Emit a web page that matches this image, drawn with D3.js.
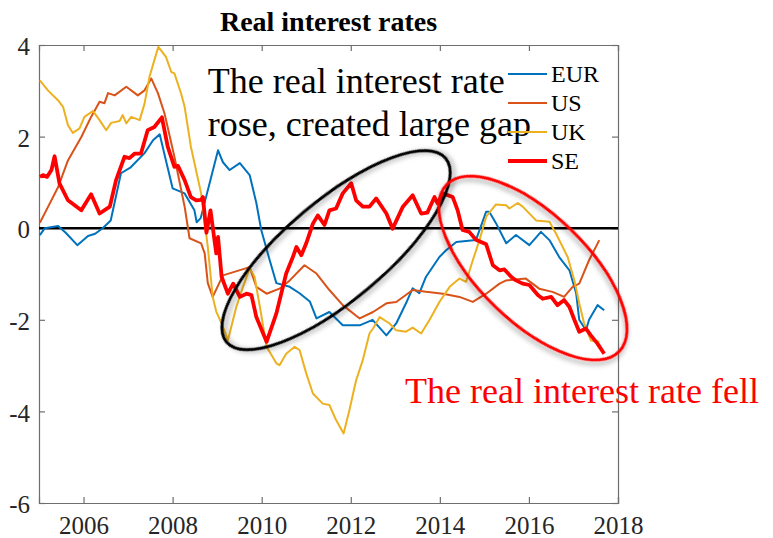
<!DOCTYPE html>
<html>
<head>
<meta charset="utf-8">
<script src="https://cdn.jsdelivr.net/npm/d3@7"></script>
<style>
  body { margin: 0; background: #fff; }
  svg { font-family: "Liberation Serif", "Times New Roman", serif; }
</style>
</head>
<body>
<svg width="773" height="538"></svg>
<script>
// series as [decimal year, real rate %]
const eur = [
  [2005.02, -0.15], [2005.13, 0.0], [2005.43, 0.05], [2005.6, -0.1], [2005.86, -0.37],
  [2006.1, -0.17], [2006.26, -0.12], [2006.43, 0.0], [2006.61, 0.17], [2006.84, 1.2],
  [2007.06, 1.33], [2007.37, 1.64], [2007.56, 1.92], [2007.71, 2.05], [2007.85, 1.48],
  [2008.0, 0.87], [2008.27, 0.76], [2008.49, 0.39], [2008.54, 0.13], [2008.63, 0.22],
  [2009.02, 1.7], [2009.13, 1.44], [2009.28, 1.27], [2009.51, 1.42], [2009.73, 1.16],
  [2009.88, 0.55], [2009.99, -0.04], [2010.18, -0.7], [2010.33, -1.2], [2010.63, -1.28],
  [2010.85, -1.42], [2011.08, -1.6], [2011.23, -1.97], [2011.52, -1.83], [2011.82, -2.12],
  [2012.2, -2.12], [2012.49, -2.0], [2012.8, -2.34], [2013.02, -2.08], [2013.24, -1.64],
  [2013.39, -1.31], [2013.54, -1.42], [2013.69, -1.06], [2013.99, -0.63], [2014.14, -0.48],
  [2014.37, -0.3], [2014.81, -0.26], [2015.04, 0.36], [2015.11, 0.36], [2015.26, 0.11],
  [2015.49, -0.33], [2015.71, -0.15], [2016.01, -0.37], [2016.27, -0.08], [2016.46, -0.26],
  [2016.68, -0.63], [2016.91, -0.92], [2017.06, -1.42], [2017.13, -2.0], [2017.28, -2.23],
  [2017.35, -2.0], [2017.54, -1.68], [2017.69, -1.79]
];
const us = [
  [2005.02, 0.12], [2005.2, 0.46], [2005.43, 0.9], [2005.65, 1.48], [2005.95, 1.99],
  [2006.17, 2.43], [2006.36, 2.76], [2006.47, 2.73], [2006.55, 2.95], [2006.7, 2.9],
  [2006.96, 3.09], [2007.22, 2.9], [2007.37, 3.01], [2007.52, 3.27], [2007.67, 2.95],
  [2007.82, 2.5], [2008.04, 1.56], [2008.27, 0.47], [2008.38, -0.22], [2008.64, -0.33],
  [2008.72, -0.55], [2008.79, -1.2], [2008.9, -1.5], [2009.13, -1.03], [2009.73, -0.85],
  [2009.88, -1.28], [2010.11, -1.43], [2010.4, -1.32], [2010.63, -1.14], [2010.96, -0.81],
  [2011.23, -0.99], [2011.52, -1.35], [2011.82, -1.68], [2012.2, -1.97], [2012.5, -1.83],
  [2012.8, -1.64], [2013.02, -1.61], [2013.39, -1.35], [2013.69, -1.39], [2014.07, -1.43],
  [2014.44, -1.5], [2014.74, -1.61], [2015.04, -1.43], [2015.34, -1.21], [2015.49, -1.14],
  [2015.93, -1.1], [2016.23, -1.32], [2016.53, -1.39], [2016.79, -1.5], [2016.98, -1.28],
  [2017.13, -1.21], [2017.35, -0.7], [2017.58, -0.26]
];
const uk = [
  [2005.02, 3.23], [2005.2, 3.01], [2005.43, 2.79], [2005.54, 2.65], [2005.65, 2.25],
  [2005.76, 2.08], [2005.91, 2.18], [2006.02, 2.43], [2006.21, 2.56], [2006.36, 2.36],
  [2006.51, 2.14], [2006.62, 2.3], [2006.81, 2.34], [2006.88, 2.47], [2006.96, 2.29],
  [2007.07, 2.43], [2007.26, 2.36], [2007.37, 2.72], [2007.48, 3.3], [2007.59, 3.67],
  [2007.68, 3.96], [2007.85, 3.74], [2007.97, 3.41], [2008.04, 3.38], [2008.19, 2.94],
  [2008.27, 2.65], [2008.41, 1.78], [2008.64, 0.76], [2008.79, -0.41], [2008.9, -1.5],
  [2008.98, -1.82], [2009.13, -2.15], [2009.24, -2.45], [2009.43, -1.72], [2009.58, -1.28],
  [2009.73, -0.88], [2009.84, -1.06], [2009.96, -1.72], [2010.11, -2.59], [2010.33, -2.95],
  [2010.4, -2.99], [2010.55, -2.74], [2010.74, -2.59], [2010.85, -2.66], [2011.0, -3.17],
  [2011.15, -3.61], [2011.37, -3.83], [2011.52, -3.86], [2011.67, -4.19], [2011.84, -4.48],
  [2011.97, -3.97], [2012.12, -3.32], [2012.27, -2.88], [2012.42, -2.3], [2012.5, -2.19],
  [2012.65, -1.94], [2012.87, -2.08], [2013.02, -2.23], [2013.24, -2.26], [2013.39, -2.17],
  [2013.58, -2.3], [2013.77, -2.0], [2013.99, -1.61], [2014.22, -1.28], [2014.44, -1.1],
  [2014.59, -1.17], [2014.74, -0.7], [2014.89, -0.26], [2015.04, 0.25], [2015.26, 0.52],
  [2015.49, 0.5], [2015.56, 0.43], [2015.75, 0.55], [2015.86, 0.47], [2016.16, 0.17],
  [2016.46, 0.14], [2016.61, -0.12], [2016.87, -0.63], [2017.02, -1.14], [2017.13, -1.64],
  [2017.24, -2.08], [2017.39, -2.45], [2017.58, -2.48]
];
const se = [
  [2005.02, 1.12], [2005.09, 1.16], [2005.18, 1.12], [2005.28, 1.27], [2005.35, 1.57],
  [2005.46, 0.98], [2005.65, 0.61], [2005.95, 0.39], [2006.17, 0.74], [2006.36, 0.32],
  [2006.59, 0.47], [2006.73, 1.05], [2006.92, 1.56], [2007.03, 1.53], [2007.15, 1.63],
  [2007.29, 1.63], [2007.44, 2.14], [2007.59, 2.21], [2007.76, 2.42], [2007.89, 1.78],
  [2008.04, 1.34], [2008.12, 1.36], [2008.27, 1.05], [2008.41, 0.68], [2008.53, 0.61],
  [2008.64, 0.62], [2008.68, 0.68], [2008.76, -0.1], [2008.85, 0.39], [2008.98, -0.55],
  [2009.02, -0.19], [2009.1, -1.06], [2009.24, -1.43], [2009.36, -1.21], [2009.51, -1.5],
  [2009.66, -1.43], [2009.77, -1.46], [2009.88, -1.94], [2010.11, -2.48], [2010.33, -1.86],
  [2010.55, -0.99], [2010.7, -0.63], [2010.78, -0.41], [2010.89, -0.59], [2011.0, -0.33],
  [2011.15, 0.1], [2011.26, 0.28], [2011.41, 0.07], [2011.52, 0.39], [2011.67, 0.43],
  [2011.82, 0.76], [2012.01, 0.98], [2012.12, 0.61], [2012.27, 0.47], [2012.42, 0.47],
  [2012.57, 0.65], [2012.8, 0.32], [2012.94, -0.01], [2013.17, 0.47], [2013.39, 0.72],
  [2013.58, 0.32], [2013.72, 0.34], [2013.88, 0.68], [2013.95, 0.54], [2014.07, 0.76],
  [2014.29, 0.68], [2014.4, 0.39], [2014.51, -0.04], [2014.66, -0.08], [2014.81, -0.25],
  [2015.04, -0.35], [2015.19, -0.81], [2015.34, -0.92], [2015.45, -0.9], [2015.6, -1.06],
  [2015.71, -1.14], [2015.86, -1.21], [2016.01, -1.24], [2016.2, -1.46], [2016.31, -1.54],
  [2016.5, -1.5], [2016.64, -1.68], [2016.79, -1.57], [2016.91, -1.72], [2017.02, -2.0],
  [2017.13, -2.26], [2017.28, -2.19], [2017.39, -2.34], [2017.54, -2.52], [2017.69, -2.74]
];

const seriesNames = ['EUR', 'US', 'UK', 'SE'];
const seriesColors = ['#0072BD', '#D95319', '#EDB120', '#FF0000'];
const seriesWidths = [2, 2, 2, 3.8];
const xTicks = [2006, 2008, 2010, 2012, 2014, 2016, 2018];
const yTicks = [-6, -4, -2, 0, 2, 4];

const svg = d3.select('svg');
const x = d3.scaleLinear().domain([2005, 2018]).range([39, 618]);
const y = d3.scaleLinear().domain([-6, 4]).range([503, 45]);
const axisColor = '#6e6e6e';
const labelColor = '#262626';
const serif = '"Liberation Serif", "Times New Roman", serif';

// drop shadow for the hand drawn ellipses
const defs = svg.append('defs');
defs.append('filter').attr('id', 'shadow')
    .attr('x', '-20%').attr('y', '-20%').attr('width', '140%').attr('height', '140%')
  .append('feDropShadow')
    .attr('dx', 2).attr('dy', 3).attr('stdDeviation', 2.5)
    .attr('flood-color', '#000').attr('flood-opacity', 0.35);
defs.append('clipPath').attr('id', 'plotclip').append('rect')
    .attr('x', 39).attr('y', 45).attr('width', 579).attr('height', 458);

// axes: left/bottom with labels, top/right ticks only, all inward
const plain = d => String(d);
const axLeft = svg.append('g').attr('transform', `translate(${x.range()[0]},0)`)
    .call(d3.axisLeft(y).tickValues(yTicks).tickSize(-6).tickPadding(9).tickFormat(plain));
const axBottom = svg.append('g').attr('transform', `translate(0,${y.range()[0]})`)
    .call(d3.axisBottom(x).tickValues(xTicks).tickSize(-6).tickPadding(10).tickFormat(plain));
const axTop = svg.append('g').attr('transform', `translate(0,${y.range()[1]})`)
    .call(d3.axisTop(x).tickValues(xTicks).tickSize(-6).tickFormat(''));
const axRight = svg.append('g').attr('transform', `translate(${x.range()[1]},0)`)
    .call(d3.axisRight(y).tickValues(yTicks).tickSize(-6).tickFormat(''));

[axLeft, axBottom, axTop, axRight].forEach(g => {
    g.attr('font-family', serif).attr('font-size', 25);
    g.select('.domain').attr('stroke', axisColor).attr('stroke-width', 1.2);
    g.selectAll('.tick line').attr('stroke', axisColor).attr('stroke-width', 1.2);
    g.selectAll('.tick text')
        .attr('fill', labelColor)
        .style('font-family', serif);
});
axLeft.selectAll('.tick text').attr('dy', '0.39em');
axBottom.selectAll('.tick text').attr('dy', '0.82em');

// zero line
svg.append('line')
    .attr('x1', x(2005)).attr('x2', x(2018))
    .attr('y1', y(0)).attr('y2', y(0))
    .attr('stroke', '#000').attr('stroke-width', 2.6);

const line = d3.line().x(d => x(d[0])).y(d => y(d[1]));
const allSeries = [eur, us, uk, se];

svg.append('g').attr('clip-path', 'url(#plotclip)')
  .selectAll('path')
  .data(allSeries)
  .join('path')
    .attr('d', line)
    .attr('fill', 'none')
    .attr('stroke', (d, i) => seriesColors[i])
    .attr('stroke-width', (d, i) => seriesWidths[i])
    .attr('stroke-linejoin', 'round');

// title
svg.append('text')
    .attr('x', (x.range()[0] + x.range()[1]) / 2).attr('y', 31)
    .attr('text-anchor', 'middle')
    .attr('font-family', serif)
    .style('font-size', '28px').style('font-weight', 'bold')
    .attr('fill', '#000')
    .text('Real interest rates');

// annotation text
const noteLines = ['The real interest rate', 'rose, created large gap'];
svg.selectAll('.note')
  .data(noteLines)
  .join('text')
    .attr('class', 'note')
    .attr('x', x(2008.79))
    .attr('y', (d, i) => y(2.96) + i * 43)
    .attr('font-family', serif)
    .style('font-size', '36px')
    .attr('fill', '#000')
    .text(d => d);

svg.append('text')
    .attr('x', x(2013.22)).attr('y', y(-3.81))
    .attr('font-family', serif)
    .style('font-size', '36px')
    .attr('fill', '#FF0000')
    .text('The real interest rate fell');

// legend
const legend = svg.append('g').attr('transform', 'translate(508,74)');
const item = legend.selectAll('g')
  .data(seriesNames)
  .join('g')
    .attr('transform', (d, i) => `translate(0,${i * 29})`);
item.append('line')
    .attr('x1', 0).attr('x2', 39)
    .attr('stroke', (d, i) => seriesColors[i])
    .attr('stroke-width', (d, i) => seriesWidths[i]);
item.append('text')
    .attr('x', 43).attr('dy', '0.35em')
    .attr('font-family', serif)
    .style('font-size', '24px')
    .attr('fill', '#000')
    .text(d => d);

// ellipses: centre in data space, radii and tilt in pixels
const ellipses = [
  { cx: 2011.67, cy: -0.48, rx: 143, ry: 50, angle: -40, color: '#000' },
  { cx: 2016.09, cy: -0.87, rx: 120, ry: 54, angle: 44, color: '#FF0000' }
];
svg.selectAll('.ring')
  .data(ellipses)
  .join('ellipse')
    .attr('class', 'ring')
    .attr('rx', d => d.rx).attr('ry', d => d.ry)
    .attr('transform', d => `translate(${x(d.cx)},${y(d.cy)}) rotate(${d.angle})`)
    .attr('fill', 'none')
    .attr('stroke', d => d.color)
    .attr('stroke-width', 3)
    .attr('filter', 'url(#shadow)');
</script>
</body>
</html>
